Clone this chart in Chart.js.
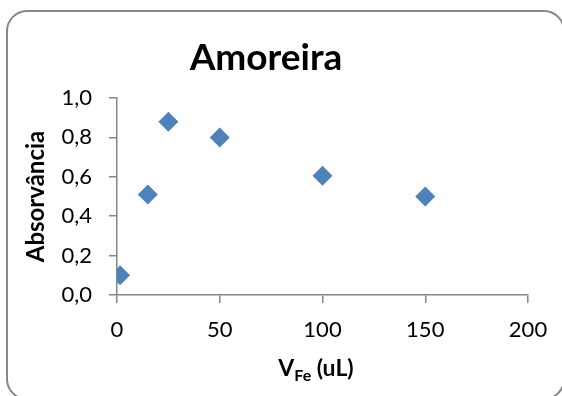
<!DOCTYPE html>
<html>
<head>
<meta charset="utf-8">
<script src="https://cdn.jsdelivr.net/npm/chart.js@4/dist/chart.umd.min.js"></script>
<style>
  html, body { margin: 0; padding: 0; background: #fff; overflow: hidden; }
  canvas { display: block; }
</style>
</head>
<body>
<canvas id="chart" width="562" height="396"></canvas>
<script>
// Iron volume added (uL) and measured absorbance
const volumes = [1.5, 15, 25, 50, 100, 150];
const absorbance = [0.10, 0.51, 0.88, 0.80, 0.605, 0.50];

// Axis tick labels (decimal comma)
const xTickLabels = ['0', '50', '100', '150', '200'];
const yTickLabels = ['0,0', '0,2', '0,4', '0,6', '0,8', '1,0'];

const chartTitle = 'Amoreira';
const yTitle = 'Absorvância';
const xTitleMain = 'V';
const xTitleSub = 'Fe';
const xTitleUnit = ' (uL)';

const FONT = 'Lato, "Open Sans", sans-serif';
const AXIS_GREY = '#868686';

// White background with a rounded grey frame
const framePlugin = {
  id: 'frame',
  beforeDraw(chart) {
    const ctx = chart.ctx;
    ctx.save();
    ctx.fillStyle = '#ffffff';
    ctx.fillRect(0, 0, chart.width, chart.height);
    ctx.beginPath();
    ctx.roundRect(7, 11, 557, 388, 20);
    ctx.lineWidth = 2;
    ctx.strokeStyle = '#878787';
    ctx.stroke();
    ctx.restore();
  }
};

// X axis title with a subscript
const xTitlePlugin = {
  id: 'xTitle',
  afterDraw(chart) {
    const ctx = chart.ctx;
    const mainFont = 'bold 23px ' + FONT;
    const subFont = 'bold 16px ' + FONT;
    ctx.save();
    ctx.fillStyle = '#000';
    ctx.textBaseline = 'alphabetic';
    ctx.font = mainFont;
    const wMain = ctx.measureText(xTitleMain).width;
    const wUnit = ctx.measureText(xTitleUnit).width;
    ctx.font = subFont;
    const wSub = ctx.measureText(xTitleSub).width;
    const total = wMain + wSub + wUnit;
    const cx = 316;
    const baseY = 376;
    let x = cx - total / 2;
    ctx.textAlign = 'left';
    ctx.font = mainFont;
    ctx.fillText(xTitleMain, x, baseY);
    x += wMain;
    ctx.font = subFont;
    ctx.fillText(xTitleSub, x, baseY + 5);
    x += wSub;
    ctx.font = mainFont;
    ctx.fillText(xTitleUnit, x, baseY);
    ctx.restore();
  }
};

new Chart(document.getElementById('chart'), {
  type: 'scatter',
  data: {
    datasets: [{
      label: 'Amoreira',
      data: volumes.map((v, i) => ({ x: v, y: absorbance[i] })),
      pointStyle: 'rectRot',
      pointRadius: 10,
      pointHoverRadius: 10,
      backgroundColor: '#4F81BD',
      borderColor: '#4A7EBB',
      borderWidth: 0
    }]
  },
  options: {
    responsive: false,
    animation: false,
    events: [],
    layout: { padding: { left: 4, right: 34, top: 0, bottom: 0 } },
    plugins: {
      legend: { display: false },
      tooltip: { enabled: false },
      title: {
        display: true,
        text: chartTitle,
        color: '#000',
        font: { family: FONT, size: 37, weight: 'bold', lineHeight: 1.2 },
        padding: { top: 35.5, bottom: 18.1 }
      }
    },
    scales: {
      x: {
        type: 'linear',
        min: 0,
        max: 200,
        afterBuildTicks(scale) {
          scale.ticks = xTickLabels.map(t => ({ value: Number(t) }));
        },
        ticks: {
          color: '#000',
          font: { family: FONT, size: 22 },
          padding: 14,
          maxRotation: 0,
          callback: (v, i) => xTickLabels[i]
        },
        grid: {
          drawOnChartArea: false,
          drawTicks: true,
          tickLength: 8,
          color: AXIS_GREY,
          lineWidth: 1.5
        },
        border: { display: true, color: AXIS_GREY, width: 1.5 },
        afterFit(scale) {
          scale.paddingLeft = 0;
          scale.paddingRight = 0;
          scale.height = 101;
        }
      },
      y: {
        type: 'linear',
        min: 0,
        max: 1,
        afterBuildTicks(scale) {
          scale.ticks = yTickLabels.map(t => ({ value: Number(t.replace(',', '.')) }));
        },
        ticks: {
          color: '#000',
          font: { family: FONT, size: 22 },
          padding: 17,
          callback: (v, i) => yTickLabels[i]
        },
        grid: {
          drawOnChartArea: false,
          drawTicks: true,
          tickLength: 8,
          color: AXIS_GREY,
          lineWidth: 1.5
        },
        border: { display: true, color: AXIS_GREY, width: 1.5 },
        title: {
          display: true,
          text: yTitle,
          color: '#000',
          font: { family: FONT, size: 24, weight: 'bold', lineHeight: 1.2 },
          padding: { top: 17.6, bottom: 0 }
        },
        afterFit(scale) {
          scale.width = 113;
        }
      }
    }
  },
  plugins: [framePlugin, xTitlePlugin]
});
</script>
</body>
</html>
